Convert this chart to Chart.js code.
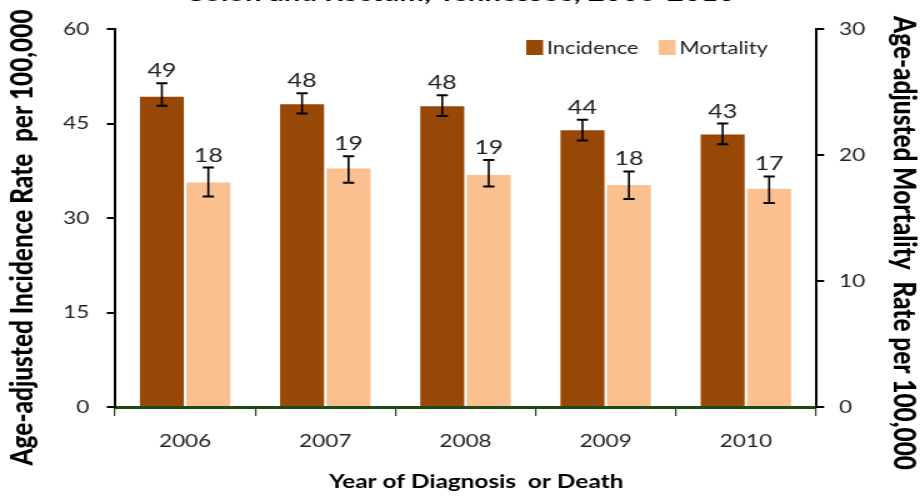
<!DOCTYPE html>
<html>
<head>
<meta charset="utf-8">
<script src="https://cdn.jsdelivr.net/npm/chart.js@4"></script>
<style>
  html, body { margin: 0; padding: 0; background: #fff; }
  #chart { display: block; }
</style>
</head>
<body>
<!-- drawn at 736 wide and stretched to 920, like the source image -->
<canvas id="chart" width="736" height="497" style="width:920px;height:497px"></canvas>
<script>
// chart data
const years = ["2006", "2007", "2008", "2009", "2010"];
const incidence = [49.4, 48.2, 47.9, 44.1, 43.4];
const incidenceLow = [47.8, 46.6, 46.2, 42.3, 41.7];
const incidenceHigh = [51.4, 49.8, 49.5, 45.6, 45.0];
const mortality = [17.9, 19.0, 18.5, 17.7, 17.4];
const mortalityLow = [16.7, 17.8, 17.5, 16.5, 16.2];
const mortalityHigh = [19.0, 19.9, 19.6, 18.7, 18.3];
const incidenceTicks = [0, 15, 30, 45, 60];
const mortalityTicks = [0, 10, 20, 30];

const chartTitle = "Colon and Rectum, Tennessee, 2006-2010";
const xTitle = "Year of Diagnosis  or Death";
const yTitle = "Age-adjusted Incidence Rate  per 100,000";
const y2Title = "Age-adjusted Mortality  Rate per 100,000";

const FONT = "Lato, 'Open Sans', sans-serif";
const INC_COLOR = "#974706";
const MORT_COLOR = "#FAC090";

// error bars + value labels
const errorBars = {
  id: "errorBars",
  afterDatasetsDraw(chart) {
    const ctx = chart.ctx;
    const sets = [
      { idx: 0, lo: incidenceLow, hi: incidenceHigh, scale: chart.scales.y },
      { idx: 1, lo: mortalityLow, hi: mortalityHigh, scale: chart.scales.y2 }
    ];
    ctx.save();
    sets.forEach(s => {
      const meta = chart.getDatasetMeta(s.idx);
      const values = chart.data.datasets[s.idx].data;
      meta.data.forEach((bar, i) => {
        const x = bar.x;
        const yl = s.scale.getPixelForValue(s.lo[i]);
        const yh = s.scale.getPixelForValue(s.hi[i]);
        ctx.strokeStyle = "#000";
        ctx.lineWidth = 1.6;
        ctx.beginPath();
        ctx.moveTo(x, yl); ctx.lineTo(x, yh);
        ctx.stroke();
        ctx.lineWidth = 2;
        ctx.beginPath();
        ctx.moveTo(x - 4.5, yl); ctx.lineTo(x + 4.5, yl);
        ctx.moveTo(x - 4.5, yh); ctx.lineTo(x + 4.5, yh);
        ctx.stroke();
        ctx.fillStyle = "#222";
        ctx.font = "20px " + FONT;
        ctx.textAlign = "center";
        ctx.textBaseline = "alphabetic";
        ctx.fillText(Math.round(values[i]), x, yh - 6);
      });
    });
    ctx.restore();
  }
};

// legend inside the plot, top right
const innerLegend = {
  id: "innerLegend",
  afterDraw(chart) {
    const ctx = chart.ctx;
    const pos = [421, 527];
    ctx.save();
    ctx.font = "17.5px " + FONT;
    ctx.textBaseline = "middle";
    ctx.textAlign = "left";
    chart.data.datasets.forEach((ds, i) => {
      ctx.fillStyle = ds.backgroundColor;
      ctx.fillRect(pos[i], 40, 13.5, 15);
      ctx.fillStyle = "#222";
      ctx.fillText(ds.label, pos[i] + 16.5, 48);
    });
    ctx.restore();
  }
};

// axis titles (placed a bit off-centre, as in the source)
const axisTitles = {
  id: "axisTitles",
  afterDraw(chart) {
    const ctx = chart.ctx;
    ctx.save();
    ctx.fillStyle = "#000";
    ctx.textAlign = "center";
    ctx.textBaseline = "middle";
    ctx.font = "bold 19.5px " + FONT;
    ctx.fillText(xTitle, 381, 482);
    ctx.font = "900 24.4px " + FONT;
    ctx.save();
    ctx.translate(18.4, 237.5);
    ctx.rotate(-Math.PI / 2);
    ctx.fillText(yTitle, 0, 0);
    ctx.restore();
    ctx.save();
    ctx.translate(723, 243);
    ctx.rotate(Math.PI / 2);
    ctx.fillText(y2Title, 0, 0);
    ctx.restore();
    ctx.restore();
  }
};

new Chart(document.getElementById("chart"), {
  type: "bar",
  data: {
    labels: years,
    datasets: [
      { label: "Incidence", data: incidence, backgroundColor: INC_COLOR, yAxisID: "y",
        borderColor: "rgba(255,255,255,0.35)", borderWidth: 1 },
      { label: "Mortality", data: mortality, backgroundColor: MORT_COLOR, yAxisID: "y2",
        borderColor: "rgba(255,255,255,0.35)", borderWidth: 1 }
    ]
  },
  options: {
    responsive: false,
    devicePixelRatio: 1,
    animation: false,
    layout: { padding: 0 },
    datasets: { bar: { categoryPercentage: 0.663, barPercentage: 1.0 } },
    plugins: {
      legend: { display: false },
      tooltip: { enabled: false },
      title: {
        display: true,
        text: chartTitle,
        color: "#000",
        font: { family: FONT, size: 23.5, weight: "bold" },
        padding: { top: -21, bottom: 21.8 }
      }
    },
    scales: {
      x: {
        offset: true,
        afterFit: s => { s.height = 90; },
        border: { display: true, color: "#1E4A14", width: 3 },
        grid: { offset: true, drawOnChartArea: false, drawTicks: true, tickLength: 9, color: "#1E4A14", lineWidth: 1.2 },
        ticks: { color: "#222", font: { family: FONT, size: 18 }, padding: 14 }
      },
      y: {
        position: "left",
        min: 0, max: 60,
        afterFit: s => { s.width = 92; },
        afterBuildTicks: axis => { axis.ticks = incidenceTicks.map(v => ({ value: v })); },
        border: { display: true, color: "#000", width: 2 },
        grid: { drawOnChartArea: false, tickLength: 6.5, color: "#000", lineWidth: 2 },
        ticks: { color: "#222", font: { family: FONT, size: 18 }, padding: 14 }
      },
      y2: {
        position: "right",
        min: 0, max: 30,
        afterFit: s => { s.width = 83.2; },
        afterBuildTicks: axis => { axis.ticks = mortalityTicks.map(v => ({ value: v })); },
        border: { display: true, color: "#000", width: 2 },
        grid: { drawOnChartArea: false, tickLength: 6.5, color: "#000", lineWidth: 2 },
        ticks: { color: "#222", font: { family: FONT, size: 18 }, padding: 12 }
      }
    }
  },
  plugins: [errorBars, innerLegend, axisTitles]
});
</script>
</body>
</html>
